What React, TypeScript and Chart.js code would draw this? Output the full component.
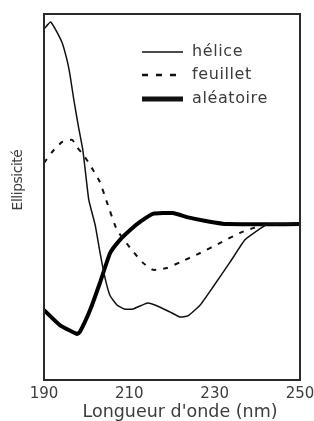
import React, { useEffect, useRef } from "react";
import { Chart, registerables } from "chart.js";

Chart.register(...registerables);

const heliceX = [190, 191.6, 194.2, 195.4, 196.1, 197.0, 198.0, 199.1, 199.8, 200.5, 202.0, 203.1, 204.3, 205.5, 207.1, 208.8, 210.9, 214.1, 216.0, 219.5, 221.9, 223.7, 226.6, 229.6, 233.6, 237.1, 239.5, 242.5, 250];
const heliceY = [95.9, 97.8, 92.3, 87.4, 83.3, 76.5, 69.7, 62.8, 56.0, 49.2, 42.3, 35.0, 27.9, 23.0, 20.5, 19.4, 19.4, 21.0, 20.5, 18.6, 17.2, 17.5, 20.5, 25.4, 32.2, 38.3, 40.4, 42.6, 42.6];

const feuilletX = [190, 191.9, 194.2, 196.6, 197.7, 199.6, 201.5, 203.1, 204.8, 207.1, 210.6, 213.2, 215.6, 218.8, 221.9, 226.6, 231.2, 235.9, 239.0, 242.3, 250];
const feuilletY = [59.3, 62.3, 65.0, 65.6, 63.7, 60.9, 57.4, 54.1, 48.4, 41.0, 35.5, 32.0, 30.1, 30.6, 32.2, 34.7, 37.4, 40.2, 41.5, 42.6, 42.6];

const aleatoireX = [190, 193.7, 197.7, 198.4, 200.8, 203.1, 205.5, 207.8, 210.2, 212.5, 215.5, 220.2, 223.5, 228.2, 232.9, 250];
const aleatoireY = [19.1, 15.0, 12.6, 13.1, 19.1, 26.5, 34.7, 38.3, 41.0, 43.2, 45.4, 45.6, 44.5, 43.4, 42.6, 42.6];

const seriesLabels = ["hélice", "feuillet", "aléatoire"];
const tickValues = [190, 210, 230, 250];
const xTitle = "Longueur d'onde (nm)";
const yTitle = "Ellipsicité";

const toPoints = (xs: number[], ys: number[]) => xs.map((x, i) => ({ x, y: ys[i] }));

const FONT = "'DejaVu Sans', sans-serif";
const TEXT = "#3c3c3c";

const framePlugin = {
  id: "frame",
  afterDatasetsDraw(chart: any) {
    const { ctx, chartArea } = chart;
    ctx.save();
    ctx.strokeStyle = "#2a2a2a";
    ctx.lineWidth = 2;
    ctx.strokeRect(chartArea.left, chartArea.top, chartArea.right - chartArea.left, chartArea.bottom - chartArea.top);
    ctx.restore();
  },
};

const legendPlugin = {
  id: "innerLegend",
  afterDraw(chart: any) {
    const { ctx } = chart;
    const rows = [52, 75, 99];
    const legendWidths = [1.5, 2.5, 5];
    const legendDash = [[], [6, 8], []];
    ctx.save();
    chart.data.datasets.forEach((ds: any, i: number) => {
      const y = rows[i];
      ctx.beginPath();
      ctx.setLineDash(legendDash[i]);
      ctx.lineWidth = legendWidths[i];
      ctx.strokeStyle = "#111";
      ctx.moveTo(142, y);
      ctx.lineTo(183, y);
      ctx.stroke();
      ctx.setLineDash([]);
      ctx.fillStyle = TEXT;
      ctx.font = `16px ${FONT}`;
      (ctx as any).letterSpacing = "0.6px";
      ctx.textBaseline = "middle";
      ctx.textAlign = "left";
      ctx.fillText(ds.label, 192, y);
      (ctx as any).letterSpacing = "0px";
    });
    // x axis title
    ctx.font = `17.5px ${FONT}`;
    ctx.fillStyle = TEXT;
    ctx.textAlign = "center";
    ctx.textBaseline = "middle";
    ctx.fillText(xTitle, 180, 412);
    // y axis title
    ctx.translate(18, 180);
    ctx.rotate(-Math.PI / 2);
    ctx.font = `14px ${FONT}`;
    (ctx as any).letterSpacing = "-0.5px";
    ctx.fillText(yTitle, 0, 0);
    (ctx as any).letterSpacing = "0px";
    ctx.restore();
  },
};

export default function App() {
  const ref = useRef<HTMLCanvasElement | null>(null);
  useEffect(() => {
    if (!ref.current) return;
    const chart = new Chart(ref.current, {
      type: "line",
      data: {
        datasets: [
          {
            label: seriesLabels[0],
            data: toPoints(heliceX, heliceY),
            borderColor: "#111",
            borderWidth: 1.5,
            pointRadius: 0,
            tension: 0.15,
          },
          {
            label: seriesLabels[1],
            data: toPoints(feuilletX, feuilletY),
            borderColor: "#111",
            borderWidth: 2,
            borderDash: [5, 7],
            pointRadius: 0,
            tension: 0.15,
          },
          {
            label: seriesLabels[2],
            data: toPoints(aleatoireX, aleatoireY),
            borderColor: "#000",
            borderWidth: 4,
            pointRadius: 0,
            tension: 0.15,
          },
        ],
      },
      options: {
        animation: false,
        responsive: true,
        maintainAspectRatio: false,
        layout: { padding: { left: 44, right: 14, top: 14, bottom: 0 } },
        plugins: { legend: { display: false }, tooltip: { enabled: false } },
        scales: {
          x: {
            type: "linear",
            min: 190,
            max: 250,
            grid: { display: false },
            border: { display: false },
            afterBuildTicks: (scale: any) => {
              scale.ticks = tickValues.map((v) => ({ value: v }));
            },
            afterFit: (scale: any) => {
              scale.height = 41;
            },
            ticks: {
              color: TEXT,
              font: { family: FONT, size: 15 },
              padding: -3,
              maxRotation: 0,
              autoSkip: false,
            },
            title: { display: false },
          },
          y: {
            display: false,
            min: 0,
            max: 100,
          },
        },
      },
      plugins: [framePlugin, legendPlugin],
    });
    return () => chart.destroy();
  }, []);
  return (
    <div style={{ position: "fixed", left: 0, top: 0, width: 314, height: 421, background: "#fff" }}>
      <canvas ref={ref} />
    </div>
  );
}
